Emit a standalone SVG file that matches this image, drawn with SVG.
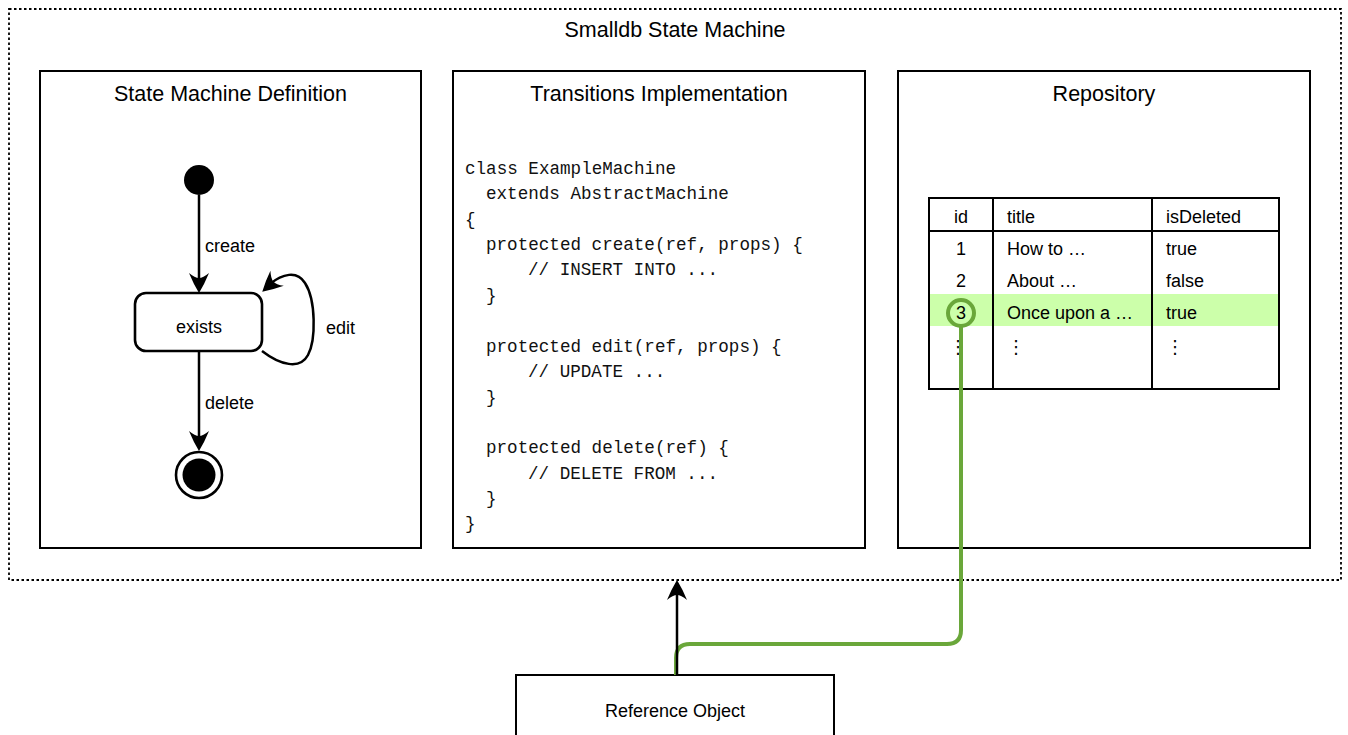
<svg xmlns="http://www.w3.org/2000/svg" xmlns:xlink="http://www.w3.org/1999/xlink" width="1348" height="735" viewBox="0 0 1348 735">
  <style>
    .sans { font-family: "Liberation Sans", "DejaVu Sans", sans-serif; fill: #000; }
    .title { font-size: 21.5px; text-anchor: middle; }
    .lbl { font-size: 18px; }
    .mid { text-anchor: middle; }
    .code { font-family: "Liberation Mono", "DejaVu Sans Mono", monospace; font-size: 17.6px; fill: #111; }
    .panel { fill: #fff; stroke: #000; stroke-width: 2; }
    .edge { fill: none; stroke: #000; stroke-width: 2.5; }
    .grid { fill: none; stroke: #000; stroke-width: 2; }
    .dots { font-family: "DejaVu Sans", sans-serif; font-size: 18px; text-anchor: middle; }
  </style>
  <defs>
    <!-- arrowhead pointing along +x, tip at the origin -->
    <path id="head" d="M1,0 Q-8,-5.5 -19,-10 Q-14,-4 -14,0 Q-14,4 -19,10 Q-8,5.5 1,0 Z" fill="#000"/>
  </defs>

  <rect width="1348" height="735" fill="#fff"/>

  <!-- outer container -->
  <g id="container">
    <rect x="9" y="9" width="1332" height="571" fill="none" stroke="#000" stroke-width="1.8" stroke-dasharray="2.5 2.5"/>
    <text class="sans title" x="675" y="37">Smalldb State Machine</text>
  </g>

  <!-- state machine definition panel -->
  <g id="definition">
    <rect class="panel" x="40" y="71" width="381" height="477"/>
    <text class="sans title" x="230.5" y="101">State Machine Definition</text>
  </g>

  <g id="state-initial">
    <circle cx="199" cy="180" r="15" fill="#000"/>
  </g>
  <g id="state-exists">
    <rect x="135" y="293" width="127" height="58" rx="11" fill="#fff" stroke="#000" stroke-width="2.6"/>
    <text class="sans lbl mid" x="199" y="333">exists</text>
  </g>
  <g id="state-final">
    <circle cx="199" cy="475" r="23" fill="#fff" stroke="#000" stroke-width="2.6"/>
    <circle cx="199" cy="475" r="16.5" fill="#000"/>
  </g>

  <g id="transitions">
    <path class="edge" d="M199,195 L199,286"/>
    <use xlink:href="#head" href="#head" transform="translate(199,292) rotate(90)"/>
    <path class="edge" d="M199,351 L199,444"/>
    <use xlink:href="#head" href="#head" transform="translate(199,450) rotate(90)"/>
    <path class="edge" d="M262,351 C280,365 300,370 308,355 C316,340 316,300 305,283 C297,270 282,274 270,284"/>
    <use xlink:href="#head" href="#head" transform="translate(263,291) rotate(138)"/>
    <text class="sans lbl" x="205" y="252">create</text>
    <text class="sans lbl" x="205" y="409">delete</text>
    <text class="sans lbl" x="326" y="334">edit</text>
  </g>

  <!-- transitions implementation panel -->
  <g id="implementation">
    <rect class="panel" x="453" y="71" width="412" height="477"/>
    <text class="sans title" x="659" y="101">Transitions Implementation</text>
    <text class="code" x="465" y="174">class ExampleMachine</text>
    <text class="code" x="486" y="199">extends AbstractMachine</text>
    <text class="code" x="465" y="225">{</text>
    <text class="code" x="486" y="250">protected create(ref, props) {</text>
    <text class="code" x="528" y="275">// INSERT INTO ...</text>
    <text class="code" x="486" y="301">}</text>
    <text class="code" x="486" y="352">protected edit(ref, props) {</text>
    <text class="code" x="528" y="377">// UPDATE ...</text>
    <text class="code" x="486" y="403">}</text>
    <text class="code" x="486" y="453">protected delete(ref) {</text>
    <text class="code" x="528" y="479">// DELETE FROM ...</text>
    <text class="code" x="486" y="504">}</text>
    <text class="code" x="465" y="529">}</text>
  </g>

  <!-- repository panel with table -->
  <g id="repository">
    <rect class="panel" x="898" y="71" width="412" height="477"/>
    <text class="sans title" x="1104" y="101">Repository</text>
    <rect x="929" y="294" width="350" height="32" fill="#ccffaa"/>
    <rect class="grid" x="929" y="198" width="350" height="191"/>
    <line class="grid" x1="929" y1="231" x2="1279" y2="231"/>
    <line class="grid" x1="993" y1="198" x2="993" y2="389"/>
    <line class="grid" x1="1152" y1="198" x2="1152" y2="389"/>
    <text class="sans lbl mid" x="961" y="223">id</text>
    <text class="sans lbl" x="1007" y="223">title</text>
    <text class="sans lbl" x="1166" y="223">isDeleted</text>
    <text class="sans lbl mid" x="961" y="255">1</text>
    <text class="sans lbl" x="1007" y="255">How to …</text>
    <text class="sans lbl" x="1166" y="255">true</text>
    <text class="sans lbl mid" x="961" y="287">2</text>
    <text class="sans lbl" x="1007" y="287">About …</text>
    <text class="sans lbl" x="1166" y="287">false</text>
    <text class="sans lbl mid" x="961" y="319">3</text>
    <text class="sans lbl" x="1007" y="319">Once upon a …</text>
    <text class="sans lbl" x="1166" y="319">true</text>
    <text class="dots" x="958" y="353">⋮</text>
    <text class="dots" x="1016" y="353">⋮</text>
    <text class="dots" x="1175" y="353">⋮</text>
  </g>

  <!-- reference object -->
  <g id="reference-object">
    <rect class="panel" x="516" y="675" width="318" height="70"/>
    <text class="sans lbl mid" x="675" y="717">Reference Object</text>
  </g>

  <!-- connectors -->
  <g id="connectors">
    <circle cx="961" cy="313" r="13" fill="none" stroke="#6aa73a" stroke-width="4"/>
    <path d="M961,326 L961,630 Q961,644 947,644 L690,644 Q676,644 676,658 L676,675" fill="none" stroke="#6aa73a" stroke-width="4"/>
    <path class="edge" d="M677,675 L677,588"/>
    <use xlink:href="#head" href="#head" transform="translate(677,581) rotate(-90)"/>
  </g>
</svg>
